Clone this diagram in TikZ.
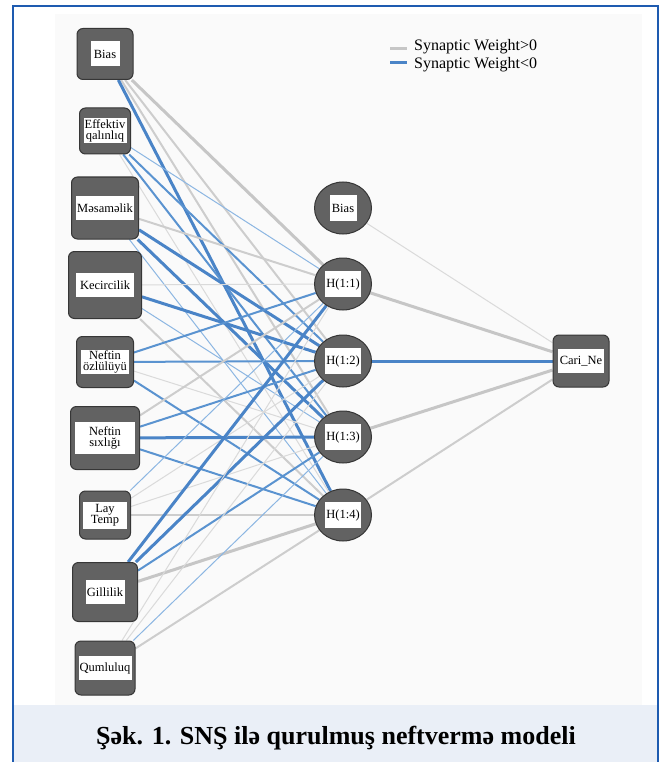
\documentclass[tikz,border=0pt]{standalone}
\usepackage{fontspec}
\setmainfont{Liberation Serif}
\usetikzlibrary{shapes.geometric,backgrounds}
\definecolor{framec}{HTML}{1E5BB0}
\definecolor{bandc}{HTML}{EAEFF7}
\definecolor{plotbg}{HTML}{FAFAFA}
\definecolor{nodefill}{HTML}{626262}
\definecolor{nodeborder}{HTML}{363636}
\definecolor{gthin}{HTML}{DADADA}
\definecolor{gmed}{HTML}{CDCDCD}
\definecolor{gthick}{HTML}{C6C6C6}
\definecolor{bthin}{HTML}{8CB6E2}
\definecolor{bmed}{HTML}{5A93D0}
\definecolor{bthick}{HTML}{4A84C7}
\tikzset{
  inbox/.style={draw=nodeborder, fill=nodefill, rounded corners=6pt, line width=1pt, inner sep=0pt},
  hid/.style={ellipse, draw=nodeborder, fill=nodefill, line width=1pt, minimum width=57pt, minimum height=52pt, inner sep=0pt},
  lbl/.style={fill=white, inner sep=0.5pt, font=\fontsize{12.5}{11.5}\selectfont, align=center, text=black},
  pt/.style={draw=gthin, line width=1pt},
  pm/.style={draw=gmed, line width=2pt},
  pk/.style={draw=gthick, line width=3pt},
  nt/.style={draw=bthin, line width=1pt},
  nm/.style={draw=bmed, line width=2pt},
  nk/.style={draw=bthick, line width=3pt},
}
\begin{document}
\begin{tikzpicture}[x=1pt,y=-1pt]
\useasboundingbox (0,0) rectangle (660,762);
\begin{pgfonlayer}{background}
\fill[white] (0,0) rectangle (660,762);
\fill[plotbg] (55,14) rectangle (642,705);
\fill[bandc] (14,705) rectangle (657,762);
\end{pgfonlayer}
\draw[framec, line width=2.6pt] (13,762) -- (13,6) -- (658,6) -- (658,762);

% input nodes
\node[inbox, minimum width=56pt, minimum height=51pt] (i1) at (105,54) {};
\node[lbl, minimum width=29pt, minimum height=25pt] (i1l) at (i1) {Bias};
\node[inbox, minimum width=51pt, minimum height=46pt] (i2) at (105,131) {};
\node[lbl, minimum width=43pt, minimum height=25pt] (i2l) at (i2) {Effektiv\\qalınlıq};
\node[inbox, minimum width=67pt, minimum height=62pt] (i3) at (105,208) {};
\node[lbl, minimum width=58pt, minimum height=24pt] (i3l) at (i3) {Məsaməlik};
\node[inbox, minimum width=73pt, minimum height=67pt] (i4) at (105,285) {};
\node[lbl, minimum width=58pt, minimum height=24pt] (i4l) at (i4) {Kecircilik};
\node[inbox, minimum width=57pt, minimum height=51pt] (i5) at (105,362) {};
\node[lbl, minimum width=48pt, minimum height=24pt] (i5l) at (i5) {Neftin\\özlülüyü};
\node[inbox, minimum width=69pt, minimum height=63pt] (i6) at (105,438) {};
\node[lbl, minimum width=60pt, minimum height=32pt] (i6l) at (i6) {Neftin\\sıxlığı};
\node[inbox, minimum width=51pt, minimum height=48pt] (i7) at (105,515) {};
\node[lbl, minimum width=44pt, minimum height=27pt] (i7l) at (i7) {Lay\\Temp};
\node[inbox, minimum width=65pt, minimum height=59pt] (i8) at (105,592) {};
\node[lbl, minimum width=39pt, minimum height=24pt] (i8l) at (i8) {Gillilik};
\node[inbox, minimum width=60pt, minimum height=54pt] (i9) at (105,668) {};
\node[lbl, minimum width=53pt, minimum height=24pt] (i9l) at (i9) {Qumluluq};

% hidden nodes
\node[hid] (hb) at (343,208) {};
\node[lbl, minimum width=27pt, minimum height=26pt] (hbl) at (hb) {Bias};
\node[hid] (h1) at (343,284) {};
\node[lbl, minimum width=36pt, minimum height=26pt] (h1l) at (h1) {H(1:1)};
\node[hid] (h2) at (343,361) {};
\node[lbl, minimum width=36pt, minimum height=26pt] (h2l) at (h2) {H(1:2)};
\node[hid] (h3) at (343,437) {};
\node[lbl, minimum width=36pt, minimum height=26pt] (h3l) at (h3) {H(1:3)};
\node[hid] (h4) at (343,515) {};
\node[lbl, minimum width=36pt, minimum height=26pt] (h4l) at (h4) {H(1:4)};

% output node
\node[inbox, minimum width=56pt, minimum height=52pt] (o) at (581,361) {};
\node[lbl, minimum width=46pt, minimum height=24pt] (ol) at (o) {Cari\_Ne};

\begin{pgfonlayer}{background}
% Bias input
\draw[pk] (i1) -- (h1); \draw[pm] (i1) -- (h2); \draw[pm] (i1) -- (h3); \draw[nk] (i1) -- (h4);
% Effektiv
\draw[nt] (i2) -- (h1); \draw[nm] (i2) -- (h2); \draw[nm] (i2) -- (h3); \draw[pt] (i2) -- (h4);
% Mesamelik
\draw[pm] (i3) -- (h1); \draw[nk] (i3) -- (h2); \draw[nk] (i3) -- (h3); \draw[nt] (i3) -- (h4);
% Kecircilik
\draw[pt] (i4) -- (h1); \draw[nk] (i4) -- (h2); \draw[nt] (i4) -- (h3); \draw[pm] (i4) -- (h4);
% Ozluluyu
\draw[nm] (i5) -- (h1); \draw[nm] (i5) -- (h2); \draw[pt] (i5) -- (h3); \draw[nm] (i5) -- (h4);
% Sixligi
\draw[pm] (i6) -- (h1); \draw[nm] (i6) -- (h2); \draw[nk] (i6) -- (h3); \draw[nm] (i6) -- (h4);
% Lay Temp
\draw[nt] (i7) -- (h1); \draw[pt] (i7) -- (h2); \draw[pt] (i7) -- (h3); \draw[pm] (i7) -- (h4);
% Gillilik
\draw[nk] (i8) -- (h1); \draw[nk] (i8) -- (h2); \draw[nm] (i8) -- (h3); \draw[pk] (i8) -- (h4);
% Qumluluq
\draw[pt] (i9) -- (h1); \draw[pt] (i9) -- (h2); \draw[nt] (i9) -- (h3); \draw[pm] (i9) -- (h4);
% hidden to output
\draw[pt] (hb) -- (o); \draw[pk] (h1) -- (o); \draw[nk] (h2) -- (o); \draw[pk] (h3) -- (o); \draw[pm] (h4) -- (o);
\end{pgfonlayer}

% legend
\coordinate (lg1a) at (390,49); \coordinate (lg1b) at (407,49);
\coordinate (lg2a) at (390,63); \coordinate (lg2b) at (407,63);
\draw[draw=gthick, line width=3pt] (lg1a) -- (lg1b);
\draw[draw=bthick, line width=3pt] (lg2a) -- (lg2b);
\node[anchor=west, inner sep=0pt, font=\fontsize{16}{16}\selectfont] (leg1) at (414,47) {Synaptic Weight>0};
\node[anchor=west, inner sep=0pt, font=\fontsize{16}{16}\selectfont] (leg2) at (414,65) {Synaptic Weight<0};

% caption
\node[font=\fontsize{26}{26}\selectfont\bfseries, inner sep=0pt] (cap) at (336,738) {Şək. 1. SNŞ ilə qurulmuş neftvermə modeli};
\end{tikzpicture}
\end{document}
